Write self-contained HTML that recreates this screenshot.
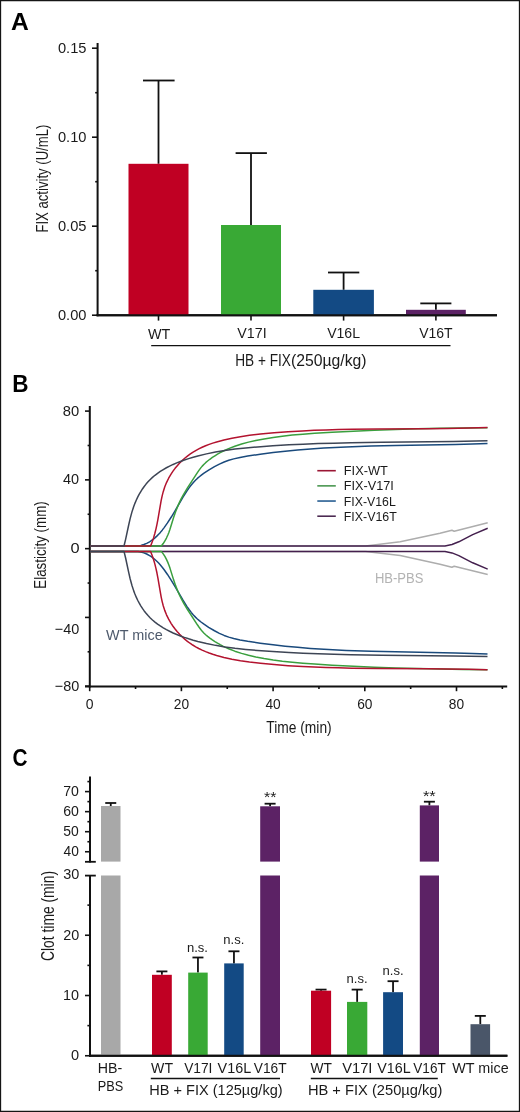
<!DOCTYPE html>
<html><head><meta charset="utf-8"><title>Figure</title>
<style>
html,body{margin:0;padding:0;background:#fff;}
body{width:520px;height:1112px;overflow:hidden;}
svg{display:block;will-change:transform;}
text{font-family:"Liberation Sans",sans-serif;}
</style></head><body>
<svg width="520" height="1112" viewBox="0 0 520 1112" fill="#1a1a1a">
<rect x="0" y="0" width="520" height="1112" fill="#fff"/>
<path d="M0 0H520V1112H0Z M1.15 1.15V1110.85H518.85V1.15Z" fill="#151515" fill-rule="evenodd"/>
<text x="11.00" y="30.00" font-size="23.20" textLength="17.8" lengthAdjust="spacingAndGlyphs" font-weight="bold" fill="#000">A</text>
<line x1="97.60" y1="43.00" x2="97.60" y2="316.20" stroke="#111" stroke-width="2.00"/>
<line x1="96.60" y1="315.20" x2="497.00" y2="315.20" stroke="#111" stroke-width="2.00"/>
<line x1="92.00" y1="315.20" x2="97.60" y2="315.20" stroke="#111" stroke-width="1.60"/>
<text x="57.93" y="319.90" font-size="14.80" textLength="28.5" lengthAdjust="spacingAndGlyphs">0.00</text>
<line x1="92.00" y1="226.20" x2="97.60" y2="226.20" stroke="#111" stroke-width="1.60"/>
<text x="57.93" y="230.90" font-size="14.80" textLength="28.6" lengthAdjust="spacingAndGlyphs">0.05</text>
<line x1="92.00" y1="137.20" x2="97.60" y2="137.20" stroke="#111" stroke-width="1.60"/>
<text x="57.93" y="141.90" font-size="14.80" textLength="28.5" lengthAdjust="spacingAndGlyphs">0.10</text>
<line x1="92.00" y1="48.20" x2="97.60" y2="48.20" stroke="#111" stroke-width="1.60"/>
<text x="57.93" y="52.90" font-size="14.80" textLength="28.6" lengthAdjust="spacingAndGlyphs">0.15</text>
<line x1="95.20" y1="270.70" x2="97.60" y2="270.70" stroke="#111" stroke-width="1.60"/>
<line x1="95.20" y1="181.70" x2="97.60" y2="181.70" stroke="#111" stroke-width="1.60"/>
<line x1="95.20" y1="92.70" x2="97.60" y2="92.70" stroke="#111" stroke-width="1.60"/>
<line x1="158.50" y1="163.80" x2="158.50" y2="80.50" stroke="#111" stroke-width="1.80"/>
<line x1="143.00" y1="80.50" x2="174.60" y2="80.50" stroke="#111" stroke-width="1.80"/>
<rect x="128.50" y="163.80" width="60.00" height="151.40" fill="#c00023"/>
<line x1="158.50" y1="315.20" x2="158.50" y2="320.60" stroke="#111" stroke-width="1.60"/>
<line x1="251.00" y1="225.00" x2="251.00" y2="153.10" stroke="#111" stroke-width="1.80"/>
<line x1="235.60" y1="153.10" x2="266.90" y2="153.10" stroke="#111" stroke-width="1.80"/>
<rect x="221.00" y="225.00" width="60.00" height="90.20" fill="#39a935"/>
<line x1="251.00" y1="315.20" x2="251.00" y2="320.60" stroke="#111" stroke-width="1.60"/>
<line x1="343.60" y1="289.80" x2="343.60" y2="272.50" stroke="#111" stroke-width="1.80"/>
<line x1="328.00" y1="272.50" x2="359.30" y2="272.50" stroke="#111" stroke-width="1.80"/>
<rect x="313.30" y="289.80" width="60.60" height="25.40" fill="#134a84"/>
<line x1="343.60" y1="315.20" x2="343.60" y2="320.60" stroke="#111" stroke-width="1.60"/>
<line x1="435.90" y1="309.80" x2="435.90" y2="303.40" stroke="#111" stroke-width="1.80"/>
<line x1="420.30" y1="303.40" x2="451.40" y2="303.40" stroke="#111" stroke-width="1.80"/>
<rect x="406.00" y="309.80" width="59.80" height="5.40" fill="#5c2265"/>
<line x1="435.90" y1="315.20" x2="435.90" y2="320.60" stroke="#111" stroke-width="1.60"/>
<line x1="96.60" y1="315.20" x2="497.00" y2="315.20" stroke="#111" stroke-width="2.00"/>
<text x="148.04" y="338.50" font-size="15.00" textLength="22.3" lengthAdjust="spacingAndGlyphs">WT</text>
<text x="237.34" y="338.40" font-size="15.00" textLength="29.3" lengthAdjust="spacingAndGlyphs">V17I</text>
<text x="327.14" y="338.40" font-size="15.00" textLength="32.9" lengthAdjust="spacingAndGlyphs">V16L</text>
<text x="419.14" y="338.40" font-size="15.00" textLength="33.4" lengthAdjust="spacingAndGlyphs">V16T</text>
<line x1="151.20" y1="345.60" x2="450.50" y2="345.60" stroke="#111" stroke-width="1.40"/>
<text x="235.18" y="365.90" font-size="16.00" textLength="55.7" lengthAdjust="spacingAndGlyphs">HB + FIX</text>
<text x="291.02" y="365.90" font-size="16.00" textLength="75.6" lengthAdjust="spacingAndGlyphs">(250µg/kg)</text>
<text x="48.50" y="232.60" font-size="17.00" textLength="108.0" lengthAdjust="spacingAndGlyphs" transform="rotate(-90 48.50 232.60)">FIX activity (U/mL)</text>
<text x="12.30" y="392.20" font-size="24.80" textLength="16.3" lengthAdjust="spacingAndGlyphs" font-weight="bold" fill="#000">B</text>
<line x1="89.80" y1="406.00" x2="89.80" y2="687.50" stroke="#111" stroke-width="2.00"/>
<line x1="85.00" y1="411.10" x2="89.80" y2="411.10" stroke="#111" stroke-width="1.60"/>
<line x1="85.00" y1="479.88" x2="89.80" y2="479.88" stroke="#111" stroke-width="1.60"/>
<line x1="85.00" y1="548.65" x2="89.80" y2="548.65" stroke="#111" stroke-width="1.60"/>
<line x1="85.00" y1="617.42" x2="89.80" y2="617.42" stroke="#111" stroke-width="1.60"/>
<line x1="85.00" y1="686.20" x2="89.80" y2="686.20" stroke="#111" stroke-width="1.60"/>
<line x1="87.60" y1="445.49" x2="89.80" y2="445.49" stroke="#111" stroke-width="1.60"/>
<line x1="87.60" y1="514.26" x2="89.80" y2="514.26" stroke="#111" stroke-width="1.60"/>
<line x1="87.60" y1="583.04" x2="89.80" y2="583.04" stroke="#111" stroke-width="1.60"/>
<line x1="87.60" y1="651.81" x2="89.80" y2="651.81" stroke="#111" stroke-width="1.60"/>
<text x="62.76" y="415.70" font-size="14.80" textLength="16.4" lengthAdjust="spacingAndGlyphs">80</text>
<text x="63.07" y="484.27" font-size="14.80" textLength="16.1" lengthAdjust="spacingAndGlyphs">40</text>
<text x="70.46" y="553.35" font-size="14.80" textLength="9.1" lengthAdjust="spacingAndGlyphs">0</text>
<text x="54.79" y="634.00" font-size="14.80" textLength="24.5" lengthAdjust="spacingAndGlyphs">−40</text>
<text x="54.79" y="690.70" font-size="14.80" textLength="24.5" lengthAdjust="spacingAndGlyphs">−80</text>
<line x1="85.00" y1="686.50" x2="507.20" y2="686.50" stroke="#111" stroke-width="2.00"/>
<line x1="89.70" y1="686.50" x2="89.70" y2="691.20" stroke="#111" stroke-width="1.60"/>
<line x1="181.40" y1="686.50" x2="181.40" y2="691.20" stroke="#111" stroke-width="1.60"/>
<line x1="273.10" y1="686.50" x2="273.10" y2="691.20" stroke="#111" stroke-width="1.60"/>
<line x1="364.80" y1="686.50" x2="364.80" y2="691.20" stroke="#111" stroke-width="1.60"/>
<line x1="456.50" y1="686.50" x2="456.50" y2="691.20" stroke="#111" stroke-width="1.60"/>
<line x1="135.55" y1="686.50" x2="135.55" y2="689.00" stroke="#111" stroke-width="1.60"/>
<line x1="227.25" y1="686.50" x2="227.25" y2="689.00" stroke="#111" stroke-width="1.60"/>
<line x1="318.95" y1="686.50" x2="318.95" y2="689.00" stroke="#111" stroke-width="1.60"/>
<line x1="410.65" y1="686.50" x2="410.65" y2="689.00" stroke="#111" stroke-width="1.60"/>
<line x1="502.35" y1="686.50" x2="502.35" y2="689.00" stroke="#111" stroke-width="1.60"/>
<text x="89.70" y="709.30" font-size="14.40" textLength="7.8" lengthAdjust="spacingAndGlyphs" text-anchor="middle">0</text>
<text x="181.40" y="709.30" font-size="14.40" textLength="15.3" lengthAdjust="spacingAndGlyphs" text-anchor="middle">20</text>
<text x="273.10" y="709.30" font-size="14.40" textLength="15.3" lengthAdjust="spacingAndGlyphs" text-anchor="middle">40</text>
<text x="364.80" y="709.30" font-size="14.40" textLength="15.3" lengthAdjust="spacingAndGlyphs" text-anchor="middle">60</text>
<text x="456.50" y="709.30" font-size="14.40" textLength="15.3" lengthAdjust="spacingAndGlyphs" text-anchor="middle">80</text>
<text x="266.30" y="732.70" font-size="17.00" textLength="65.4" lengthAdjust="spacingAndGlyphs">Time (min)</text>
<text x="45.70" y="588.70" font-size="17.40" textLength="87.4" lengthAdjust="spacingAndGlyphs" transform="rotate(-90 45.70 588.70)">Elasticity (mm)</text>
<path d="M90.00 546.00L365.60 546.00L400.20 541.80L440.00 533.20L451.90 530.20L454.20 531.20L487.70 522.80" fill="none" stroke="#adadad" stroke-width="1.5" stroke-linejoin="round"/>
<path d="M90.00 551.40L365.60 551.40L400.20 555.60L440.00 564.20L451.90 567.20L454.20 566.20L487.70 574.60" fill="none" stroke="#adadad" stroke-width="1.5" stroke-linejoin="round"/>
<path d="M90.00 546.00L138.00 546.00L140.88 545.45L143.87 544.55L146.70 543.37L149.60 541.80L151.31 540.70L153.15 539.35L154.93 537.89L156.82 536.15L158.64 534.31L160.38 532.38L162.22 530.16L163.99 527.87L167.48 522.94L171.29 517.03L174.77 511.28L182.99 497.22L186.84 491.06L189.05 487.86L191.24 484.99L193.39 482.44L195.70 480.02L197.38 478.44L199.32 476.75L201.34 475.14L203.64 473.44L208.63 470.11L214.50 466.63L219.38 464.08L224.13 461.96L228.76 460.29L233.72 458.86L240.01 457.44L247.67 456.09L260.23 454.22L273.08 452.57L285.18 451.23L297.55 450.05L310.47 449.01L323.91 448.11L346.19 446.97L371.08 446.10L395.48 445.53L455.41 444.43L472.24 444.00L487.50 443.50" fill="none" stroke="#1a4a7c" stroke-width="1.5" stroke-linejoin="round"/>
<path d="M90.00 551.40L138.00 551.40L140.88 551.95L143.87 552.85L146.70 554.03L149.60 555.60L151.31 556.70L153.15 558.05L154.93 559.51L156.82 561.25L158.64 563.09L160.38 565.02L162.22 567.24L163.99 569.53L167.48 574.46L171.29 580.37L174.77 586.12L182.99 600.18L186.84 606.34L189.05 609.54L191.24 612.41L193.39 614.96L195.70 617.38L197.38 618.96L199.32 620.65L201.34 622.26L203.64 623.96L208.63 627.29L214.50 630.77L219.38 633.32L224.13 635.44L228.76 637.11L233.72 638.54L240.01 639.96L247.67 641.31L260.23 643.18L273.08 644.83L285.18 646.17L297.55 647.35L310.47 648.39L323.91 649.29L346.19 650.43L371.08 651.30L395.48 651.87L455.41 652.97L472.24 653.40L487.50 653.90" fill="none" stroke="#1a4a7c" stroke-width="1.5" stroke-linejoin="round"/>
<path d="M90.00 546.00L445.00 546.00L452.00 544.50L458.80 541.80L472.70 534.60L487.70 528.30" fill="none" stroke="#44204e" stroke-width="1.5" stroke-linejoin="round"/>
<path d="M90.00 551.40L445.00 551.40L452.00 552.90L458.80 555.60L472.70 562.80L487.70 569.10" fill="none" stroke="#44204e" stroke-width="1.5" stroke-linejoin="round"/>
<path d="M90.00 546.00L161.30 546.00L163.22 543.54L164.89 540.96L166.46 538.05L167.83 535.04L168.86 532.43L169.96 529.30L173.60 517.54L175.59 511.75L178.22 505.15L179.68 501.92L181.12 498.95L183.90 493.79L187.48 487.87L197.39 472.61L199.11 470.11L200.78 467.88L202.24 466.13L203.80 464.46L205.65 462.69L207.60 461.02L209.84 459.27L212.35 457.47L214.91 455.78L217.52 454.19L220.18 452.69L222.88 451.28L228.64 448.63L234.80 446.23L241.59 444.02L248.50 442.14L255.76 440.49L264.08 438.90L273.19 437.43L282.32 436.21L292.22 435.11L302.89 434.14L314.59 433.28L332.17 432.23L353.35 431.17L374.29 430.27L395.76 429.50L417.49 428.87L439.99 428.36L463.24 427.97L487.50 427.70" fill="none" stroke="#3a9f3e" stroke-width="1.5" stroke-linejoin="round"/>
<path d="M90.00 551.40L161.30 551.40L163.22 553.86L164.89 556.44L166.46 559.35L167.83 562.36L168.86 564.97L169.96 568.10L173.60 579.86L175.59 585.65L178.22 592.25L179.68 595.48L181.12 598.45L183.90 603.61L187.48 609.53L197.39 624.79L199.11 627.29L200.78 629.52L202.24 631.27L203.80 632.94L205.65 634.71L207.60 636.38L209.84 638.13L212.35 639.93L214.91 641.62L217.52 643.21L220.18 644.71L222.88 646.12L228.64 648.77L234.80 651.17L241.59 653.38L248.50 655.26L255.76 656.91L264.08 658.50L273.19 659.97L282.32 661.19L292.22 662.29L302.89 663.26L314.59 664.12L332.17 665.17L353.35 666.23L374.29 667.13L395.76 667.90L417.49 668.53L439.99 669.04L463.24 669.43L487.50 669.70" fill="none" stroke="#3a9f3e" stroke-width="1.5" stroke-linejoin="round"/>
<path d="M90.00 546.00L150.60 546.00L152.17 541.98L153.55 537.91L154.82 533.53L155.99 528.84L156.96 524.37L157.88 519.60L161.14 500.59L162.16 495.82L163.24 491.65L164.71 487.04L166.51 482.56L168.64 478.23L171.21 473.83L173.00 471.16L175.08 468.35L177.30 465.66L179.65 463.08L182.12 460.62L184.71 458.28L187.42 456.08L190.01 454.17L192.69 452.39L195.68 450.59L198.75 448.93L202.14 447.28L205.61 445.77L209.15 444.40L212.74 443.14L216.63 441.91L223.98 439.93L231.92 438.16L240.41 436.64L249.47 435.33L260.43 434.08L274.09 432.82L288.04 431.77L302.55 430.90L314.12 430.35L325.97 429.90L338.37 429.54L351.85 429.25L378.03 428.92L427.44 428.65L447.66 428.47L468.67 428.12L487.50 427.60" fill="none" stroke="#b3132f" stroke-width="1.5" stroke-linejoin="round"/>
<path d="M90.00 551.40L150.60 551.40L152.17 555.42L153.55 559.49L154.82 563.87L155.99 568.56L156.96 573.03L157.88 577.80L161.14 596.81L162.16 601.58L163.24 605.75L164.71 610.36L166.51 614.84L168.64 619.17L171.21 623.57L173.00 626.24L175.08 629.05L177.30 631.74L179.65 634.32L182.12 636.78L184.71 639.12L187.42 641.32L190.01 643.23L192.69 645.01L195.68 646.81L198.75 648.47L202.14 650.12L205.61 651.63L209.15 653.00L212.74 654.26L216.63 655.49L223.98 657.47L231.92 659.24L240.41 660.76L249.47 662.07L260.43 663.32L274.09 664.58L288.04 665.63L302.55 666.50L314.12 667.05L325.97 667.50L338.37 667.86L351.85 668.15L378.03 668.48L427.44 668.75L447.66 668.93L468.67 669.28L487.50 669.80" fill="none" stroke="#b3132f" stroke-width="1.5" stroke-linejoin="round"/>
<path d="M90.00 546.00L124.00 546.00L125.67 539.12L128.69 524.97L130.14 518.67L131.89 512.14L133.72 506.51L134.92 503.34L136.24 500.23L137.68 497.17L139.11 494.44L140.79 491.54L142.43 488.96L144.19 486.47L146.05 484.09L148.02 481.81L150.29 479.45L152.47 477.41L154.97 475.30L157.57 473.31L160.27 471.45L163.29 469.55L166.40 467.77L169.61 466.11L173.13 464.44L176.73 462.90L180.40 461.46L184.37 460.03L188.65 458.62L193.22 457.24L197.81 455.98L206.49 453.87L215.49 452.04L224.80 450.48L234.97 449.09L245.74 447.92L257.63 446.89L272.87 445.81L288.97 444.87L303.13 444.20L318.13 443.61L333.98 443.13L350.94 442.72L381.83 442.23L453.33 441.44L487.50 440.80" fill="none" stroke="#3d4555" stroke-width="1.5" stroke-linejoin="round"/>
<path d="M90.00 551.40L124.00 551.40L125.67 558.28L128.69 572.43L130.14 578.73L131.89 585.26L133.72 590.89L134.92 594.06L136.24 597.17L137.68 600.23L139.11 602.96L140.79 605.86L142.43 608.44L144.19 610.93L146.05 613.31L148.02 615.59L150.29 617.95L152.47 619.99L154.97 622.10L157.57 624.09L160.27 625.95L163.29 627.85L166.40 629.63L169.61 631.29L173.13 632.96L176.73 634.50L180.40 635.94L184.37 637.37L188.65 638.78L193.22 640.16L197.81 641.42L206.49 643.53L215.49 645.36L224.80 646.92L234.97 648.31L245.74 649.48L257.63 650.51L272.87 651.59L288.97 652.53L303.13 653.20L318.13 653.79L333.98 654.27L350.94 654.68L381.83 655.17L453.33 655.96L487.50 656.60" fill="none" stroke="#3d4555" stroke-width="1.5" stroke-linejoin="round"/>
<line x1="317.30" y1="470.70" x2="335.80" y2="470.70" stroke="#9a1634" stroke-width="1.60"/>
<text x="343.80" y="475.30" font-size="13.20" textLength="44.0" lengthAdjust="spacingAndGlyphs">FIX-WT</text>
<line x1="317.30" y1="485.87" x2="335.80" y2="485.87" stroke="#4a9650" stroke-width="1.60"/>
<text x="343.80" y="490.47" font-size="13.20" textLength="50.0" lengthAdjust="spacingAndGlyphs">FIX-V17I</text>
<line x1="317.30" y1="501.04" x2="335.80" y2="501.04" stroke="#275d92" stroke-width="1.60"/>
<text x="343.80" y="505.64" font-size="13.20" textLength="52.0" lengthAdjust="spacingAndGlyphs">FIX-V16L</text>
<line x1="317.30" y1="516.21" x2="335.80" y2="516.21" stroke="#4c2a52" stroke-width="1.60"/>
<text x="343.80" y="520.81" font-size="13.20" textLength="53.0" lengthAdjust="spacingAndGlyphs">FIX-V16T</text>
<text x="374.90" y="583.00" font-size="14.00" textLength="48.5" lengthAdjust="spacingAndGlyphs" fill="#b3b3b3">HB-PBS</text>
<text x="106.00" y="639.60" font-size="14.00" textLength="56.7" lengthAdjust="spacingAndGlyphs" fill="#4e5a6c">WT mice</text>
<text x="12.50" y="765.60" font-size="24.80" textLength="15.0" lengthAdjust="spacingAndGlyphs" font-weight="bold" fill="#000">C</text>
<line x1="90.00" y1="776.50" x2="90.00" y2="862.40" stroke="#111" stroke-width="2.00"/>
<line x1="85.00" y1="861.80" x2="95.80" y2="861.80" stroke="#111" stroke-width="1.80"/>
<line x1="85.00" y1="791.60" x2="90.00" y2="791.60" stroke="#111" stroke-width="1.60"/>
<text x="63.18" y="796.30" font-size="14.80" textLength="15.7" lengthAdjust="spacingAndGlyphs">70</text>
<line x1="85.00" y1="811.65" x2="90.00" y2="811.65" stroke="#111" stroke-width="1.60"/>
<text x="63.18" y="816.35" font-size="14.80" textLength="15.7" lengthAdjust="spacingAndGlyphs">60</text>
<line x1="85.00" y1="831.70" x2="90.00" y2="831.70" stroke="#111" stroke-width="1.60"/>
<text x="63.34" y="836.40" font-size="14.80" textLength="15.5" lengthAdjust="spacingAndGlyphs">50</text>
<line x1="85.00" y1="851.75" x2="90.00" y2="851.75" stroke="#111" stroke-width="1.60"/>
<text x="63.59" y="856.45" font-size="14.80" textLength="15.3" lengthAdjust="spacingAndGlyphs">40</text>
<line x1="87.40" y1="781.58" x2="90.00" y2="781.58" stroke="#111" stroke-width="1.60"/>
<line x1="87.40" y1="801.62" x2="90.00" y2="801.62" stroke="#111" stroke-width="1.60"/>
<line x1="87.40" y1="821.68" x2="90.00" y2="821.68" stroke="#111" stroke-width="1.60"/>
<line x1="87.40" y1="841.73" x2="90.00" y2="841.73" stroke="#111" stroke-width="1.60"/>
<line x1="90.00" y1="875.00" x2="90.00" y2="1056.70" stroke="#111" stroke-width="2.00"/>
<line x1="85.00" y1="875.60" x2="95.80" y2="875.60" stroke="#111" stroke-width="1.80"/>
<line x1="85.00" y1="935.25" x2="90.00" y2="935.25" stroke="#111" stroke-width="1.60"/>
<line x1="85.00" y1="995.50" x2="90.00" y2="995.50" stroke="#111" stroke-width="1.60"/>
<line x1="85.00" y1="1055.75" x2="90.00" y2="1055.75" stroke="#111" stroke-width="1.60"/>
<text x="63.25" y="879.40" font-size="14.80" textLength="16.1" lengthAdjust="spacingAndGlyphs">30</text>
<text x="63.18" y="939.65" font-size="14.80" textLength="16.0" lengthAdjust="spacingAndGlyphs">20</text>
<text x="63.11" y="999.90" font-size="14.80" textLength="16.0" lengthAdjust="spacingAndGlyphs">10</text>
<text x="70.93" y="1060.15" font-size="14.80" textLength="8.1" lengthAdjust="spacingAndGlyphs">0</text>
<line x1="87.40" y1="905.12" x2="90.00" y2="905.12" stroke="#111" stroke-width="1.60"/>
<line x1="87.40" y1="965.38" x2="90.00" y2="965.38" stroke="#111" stroke-width="1.60"/>
<line x1="87.40" y1="1025.62" x2="90.00" y2="1025.62" stroke="#111" stroke-width="1.60"/>
<line x1="89.00" y1="1055.70" x2="507.40" y2="1055.70" stroke="#111" stroke-width="2.00"/>
<line x1="110.75" y1="806.00" x2="110.75" y2="803.00" stroke="#111" stroke-width="1.80"/>
<line x1="105.25" y1="803.00" x2="116.25" y2="803.00" stroke="#111" stroke-width="1.80"/>
<rect x="101.00" y="806.00" width="19.50" height="55.60" fill="#a8a8a8"/>
<rect x="101.00" y="875.50" width="19.50" height="180.20" fill="#a8a8a8"/>
<line x1="161.90" y1="974.80" x2="161.90" y2="971.40" stroke="#111" stroke-width="1.80"/>
<line x1="156.40" y1="971.40" x2="167.40" y2="971.40" stroke="#111" stroke-width="1.80"/>
<rect x="152.00" y="974.80" width="19.80" height="80.90" fill="#c00023"/>
<line x1="197.95" y1="972.60" x2="197.95" y2="957.50" stroke="#111" stroke-width="1.80"/>
<line x1="192.45" y1="957.50" x2="203.45" y2="957.50" stroke="#111" stroke-width="1.80"/>
<rect x="188.20" y="972.60" width="19.50" height="83.10" fill="#39a935"/>
<line x1="233.95" y1="963.40" x2="233.95" y2="951.30" stroke="#111" stroke-width="1.80"/>
<line x1="228.45" y1="951.30" x2="239.45" y2="951.30" stroke="#111" stroke-width="1.80"/>
<rect x="224.20" y="963.40" width="19.50" height="92.30" fill="#134a84"/>
<line x1="270.10" y1="806.30" x2="270.10" y2="803.70" stroke="#111" stroke-width="1.80"/>
<line x1="264.60" y1="803.70" x2="275.60" y2="803.70" stroke="#111" stroke-width="1.80"/>
<rect x="260.20" y="806.30" width="19.80" height="55.30" fill="#5c2265"/>
<rect x="260.20" y="875.50" width="19.80" height="180.20" fill="#5c2265"/>
<line x1="321.05" y1="990.70" x2="321.05" y2="989.60" stroke="#111" stroke-width="1.80"/>
<line x1="315.55" y1="989.60" x2="326.55" y2="989.60" stroke="#111" stroke-width="1.80"/>
<rect x="311.00" y="990.70" width="20.10" height="65.00" fill="#c00023"/>
<line x1="357.15" y1="1001.90" x2="357.15" y2="989.60" stroke="#111" stroke-width="1.80"/>
<line x1="351.65" y1="989.60" x2="362.65" y2="989.60" stroke="#111" stroke-width="1.80"/>
<rect x="347.00" y="1001.90" width="20.30" height="53.80" fill="#39a935"/>
<line x1="393.05" y1="992.20" x2="393.05" y2="981.20" stroke="#111" stroke-width="1.80"/>
<line x1="387.55" y1="981.20" x2="398.55" y2="981.20" stroke="#111" stroke-width="1.80"/>
<rect x="383.10" y="992.20" width="19.90" height="63.50" fill="#134a84"/>
<line x1="429.40" y1="805.40" x2="429.40" y2="801.70" stroke="#111" stroke-width="1.80"/>
<line x1="423.90" y1="801.70" x2="434.90" y2="801.70" stroke="#111" stroke-width="1.80"/>
<rect x="419.80" y="805.40" width="19.20" height="56.20" fill="#5c2265"/>
<rect x="419.80" y="875.50" width="19.20" height="180.20" fill="#5c2265"/>
<line x1="480.30" y1="1024.20" x2="480.30" y2="1015.90" stroke="#111" stroke-width="1.80"/>
<line x1="474.80" y1="1015.90" x2="485.80" y2="1015.90" stroke="#111" stroke-width="1.80"/>
<rect x="470.50" y="1024.20" width="19.60" height="31.50" fill="#4a5669"/>
<line x1="89.00" y1="1055.70" x2="507.40" y2="1055.70" stroke="#111" stroke-width="2.00"/>
<text x="197.50" y="951.60" font-size="13.00" textLength="21.0" lengthAdjust="spacingAndGlyphs" text-anchor="middle">n.s.</text>
<text x="233.80" y="943.80" font-size="13.00" textLength="21.0" lengthAdjust="spacingAndGlyphs" text-anchor="middle">n.s.</text>
<text x="357.10" y="982.80" font-size="13.00" textLength="21.0" lengthAdjust="spacingAndGlyphs" text-anchor="middle">n.s.</text>
<text x="393.10" y="975.20" font-size="13.00" textLength="21.0" lengthAdjust="spacingAndGlyphs" text-anchor="middle">n.s.</text>
<text x="270.20" y="802.30" font-size="15.00" textLength="12.4" lengthAdjust="spacingAndGlyphs" text-anchor="middle">**</text>
<text x="429.30" y="801.10" font-size="15.00" textLength="12.8" lengthAdjust="spacingAndGlyphs" text-anchor="middle">**</text>
<text x="97.63" y="1073.40" font-size="15.30" textLength="24.5" lengthAdjust="spacingAndGlyphs">HB-</text>
<text x="97.75" y="1090.80" font-size="15.30" textLength="25.5" lengthAdjust="spacingAndGlyphs">PBS</text>
<text x="151.14" y="1073.40" font-size="13.90" textLength="21.9" lengthAdjust="spacingAndGlyphs">WT</text>
<text x="184.14" y="1073.40" font-size="13.90" textLength="28.3" lengthAdjust="spacingAndGlyphs">V17I</text>
<text x="217.64" y="1073.40" font-size="13.90" textLength="33.6" lengthAdjust="spacingAndGlyphs">V16L</text>
<text x="253.74" y="1073.40" font-size="13.90" textLength="32.8" lengthAdjust="spacingAndGlyphs">V16T</text>
<text x="310.44" y="1073.40" font-size="13.90" textLength="21.4" lengthAdjust="spacingAndGlyphs">WT</text>
<text x="342.24" y="1073.40" font-size="13.90" textLength="30.2" lengthAdjust="spacingAndGlyphs">V17I</text>
<text x="377.34" y="1073.40" font-size="13.90" textLength="33.4" lengthAdjust="spacingAndGlyphs">V16L</text>
<text x="413.34" y="1073.40" font-size="13.90" textLength="32.4" lengthAdjust="spacingAndGlyphs">V16T</text>
<text x="452.34" y="1073.40" font-size="13.90" textLength="56.3" lengthAdjust="spacingAndGlyphs">WT mice</text>
<line x1="150.80" y1="1078.50" x2="280.00" y2="1078.50" stroke="#111" stroke-width="1.50"/>
<line x1="310.80" y1="1078.50" x2="437.80" y2="1078.50" stroke="#111" stroke-width="1.50"/>
<text x="149.31" y="1094.60" font-size="14.40" textLength="133.3" lengthAdjust="spacingAndGlyphs">HB + FIX (125µg/kg)</text>
<text x="307.90" y="1094.60" font-size="14.40" textLength="134.5" lengthAdjust="spacingAndGlyphs">HB + FIX (250µg/kg)</text>
<text x="53.60" y="961.00" font-size="17.60" textLength="90.0" lengthAdjust="spacingAndGlyphs" transform="rotate(-90 53.60 961.00)">Clot time (min)</text>
</svg>
</body></html>
